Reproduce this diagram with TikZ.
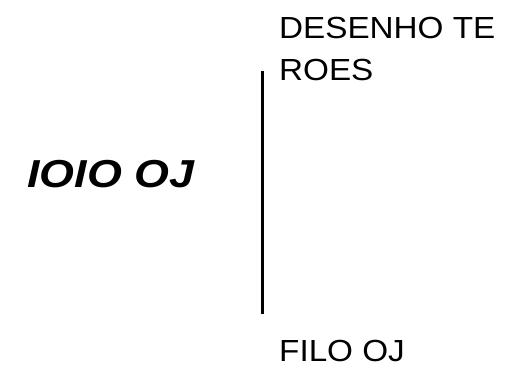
\documentclass[tikz,border=0pt]{standalone}
\usepackage{fontspec}
\setmainfont{Liberation Sans}
\newfontfamily\lblfont[FakeStretch=1.09]{Liberation Sans}
\newfontfamily\widefont[FakeStretch=1.15]{Liberation Sans}
\begin{document}
\begin{tikzpicture}[x=1pt,y=-1pt,
  lbl/.style={anchor=base west,inner sep=0pt,align=left,font=\lblfont\fontsize{30.5}{41.7}\selectfont},
  big/.style={anchor=base west,inner sep=0pt,font=\widefont\bfseries\itshape\fontsize{39}{39}\selectfont}]
\useasboundingbox (0,0) rectangle (512,375);
\node[lbl] (top) at (279,80) {DESENHO TE\\ROES};
\node[lbl] (bot) at (279,361) {FILO OJ};
\node[big] (left) at (27,187) {IOIO OJ};
\coordinate (a) at (262,71);
\coordinate (b) at (262,314);
\draw[line width=3pt] (a) -- (b);
\end{tikzpicture}
\end{document}
